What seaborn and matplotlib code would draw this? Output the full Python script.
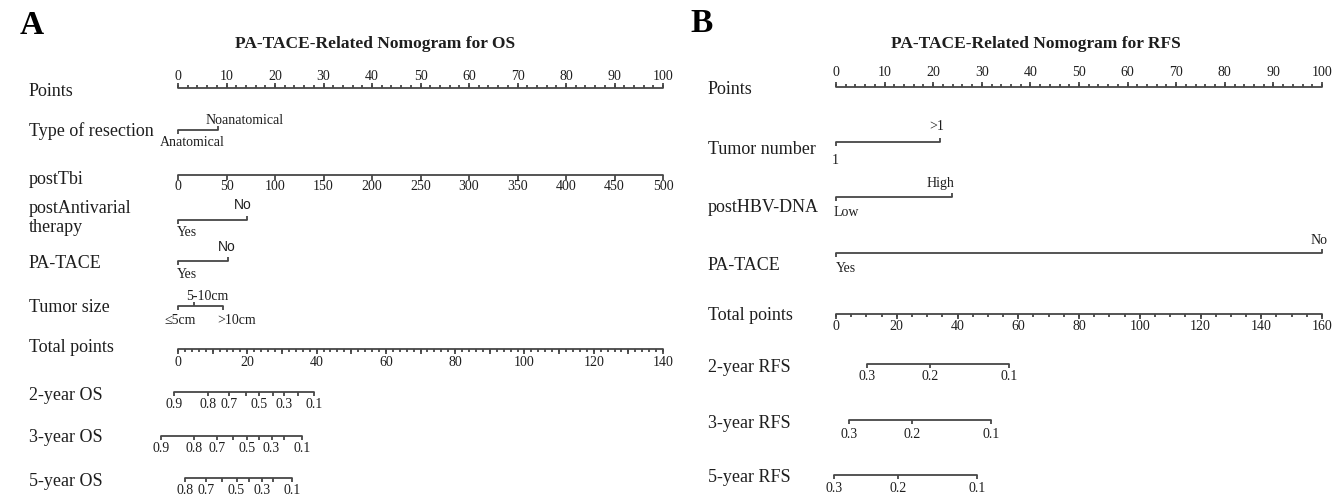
import matplotlib
matplotlib.use("Agg")
import matplotlib.pyplot as plt
from matplotlib.transforms import offset_copy
import numpy as np
import seaborn as sns

# ---------------- OS nomogram (panel A) ----------------
os_points_ticks = list(range(0, 101, 10))
os_resection_levels = ["Anatomical", "Noanatomical"]
os_resection_points = [0, 8.3]
os_tbi_ticks = list(range(0, 501, 50))
os_antiviral_levels = ["Yes", "No"]
os_antiviral_points = [0, 14.2]
os_tace_levels = ["Yes", "No"]
os_tace_points = [0, 10.3]
os_size_levels = ["\u22645cm", "5-10cm", ">10cm"]
os_size_points = [0, 3.3, 9.2]
os_total_ticks = list(range(0, 141, 20))
os_prob_2y = [0.9, 0.8, 0.7, 0.6, 0.5, 0.4, 0.3, 0.2, 0.1]
os_total_2y = [-1.2, 8.6, 14.8, 19.6, 23.5, 27.3, 30.7, 34.6, 39.3]
os_prob_3y = [0.9, 0.8, 0.7, 0.6, 0.5, 0.4, 0.3, 0.2, 0.1]
os_total_3y = [-5.0, 4.7, 11.2, 16.0, 19.8, 23.5, 27.0, 30.7, 35.7]
os_prob_5y = [0.8, 0.7, 0.6, 0.5, 0.4, 0.3, 0.2, 0.1]
os_total_5y = [2.0, 8.1, 12.6, 16.9, 20.6, 24.2, 27.5, 32.8]
os_prob_shown = [0.9, 0.8, 0.7, 0.5, 0.3, 0.1]

# ---------------- RFS nomogram (panel B) ----------------
rfs_points_ticks = list(range(0, 101, 10))
rfs_number_levels = ["1", ">1"]
rfs_number_points = [0, 21.5]
rfs_hbv_levels = ["Low", "High"]
rfs_hbv_points = [0, 23.9]
rfs_tace_levels = ["Yes", "No"]
rfs_tace_points = [0, 100]
rfs_total_ticks = list(range(0, 161, 20))
rfs_prob = [0.3, 0.2, 0.1]
rfs_total_2y = [10.1, 31.1, 57.0]
rfs_total_3y = [4.3, 25.1, 51.0]
rfs_total_5y = [-0.6, 20.5, 46.3]

W, H = 1337, 497
LINE = "#474747"
TXT = "#1e1e1e"
LW = 1.3
SERIF = ["Liberation Serif", "DejaVu Serif"]
SANS = ["Liberation Sans", "DejaVu Sans"]
ROW_FS = 13
SMALL_FS = 10

sns.set_theme(style="white")
plt.rcParams["font.family"] = SERIF

fig = plt.figure(figsize=(W / 100, H / 100), dpi=100)


def make_panel(x0, x1):
    ax = fig.add_axes([x0 / W, 0, (x1 - x0) / W, 1])
    ax.set_xlim(0, 100)
    ax.set_ylim(H, 0)
    ax.axis("off")
    return ax


def hline(ax, xa, xb, y):
    sns.lineplot(x=[xa, xb], y=[y, y], ax=ax, color=LINE, linewidth=LW,
                 estimator=None, sort=False)


def ticks(ax, xs, y, length):
    ax.vlines(xs, y, y + length, color=LINE, linewidth=LW, clip_on=False)


def label(ax, x, y, s, dx=0, fs=SMALL_FS, family=SERIF):
    tr = offset_copy(ax.transData, fig=fig, x=dx, y=0, units="dots")
    ax.text(x, y, s, transform=tr, ha="center", va="center", fontsize=fs,
            color=TXT, family=family)


def scale_axis(ax, y, vmax, major, shown, minor, up, lab_y):
    # continuous axis: values mapped to 0..100 of the panel
    hline(ax, 0, 100, y)
    sgn = -1 if up else 1
    ticks(ax, np.array(minor) / vmax * 100, y, sgn * 3)
    ticks(ax, np.array(major) / vmax * 100, y, sgn * 5)
    for v in shown:
        label(ax, v / vmax * 100, lab_y, str(v))


def cat_axis(ax, pts, levels, y, y_up, y_dn, above, dxs, family=SERIF):
    hline(ax, min(pts), max(pts), y)
    for p, lev, a, dx in zip(pts, levels, above, dxs):
        ticks(ax, [p], y, -4 if a else 4)
        label(ax, p, y_up if a else y_dn, lev, dx=dx,
              family=family if lev == "No" else SERIF)


def prob_axis(ax, totals, probs, shown, tmax, y, lab_y):
    xs = np.array(totals) / tmax * 100
    hline(ax, xs.min(), xs.max(), y)
    ticks(ax, xs, y, 4)
    for x, p in zip(xs, probs):
        if p in shown:
            label(ax, x, lab_y, f"{p:.1f}")


def row_label(x, y, s):
    fig.text(x / W, 1 - y / H, s, ha="left", va="center", fontsize=ROW_FS,
             color=TXT, linespacing=1.2)


# ---------------- panel A ----------------
axA = make_panel(178, 663)
fig.text(20 / W, 1 - 26 / H, "A", fontsize=24, fontweight="bold",
         ha="left", va="center", color="black")
fig.text(375 / W, 1 - 44 / H, "PA-TACE-Related Nomogram for OS",
         fontsize=12.5, fontweight="bold", ha="center", va="center", color=TXT)

scale_axis(axA, 88, 100, os_points_ticks, os_points_ticks,
           list(range(0, 101, 2)), True, 76)
cat_axis(axA, os_resection_points, os_resection_levels, 130, 121, 143,
         [False, True], [14, 26])
scale_axis(axA, 175, 500, os_tbi_ticks, os_tbi_ticks, [], False, 187)
cat_axis(axA, os_antiviral_points, os_antiviral_levels, 220, 205, 232,
         [False, True], [9, -4], family=SANS)
cat_axis(axA, os_tace_points, os_tace_levels, 261, 247, 275,
         [False, True], [9, -1], family=SANS)
cat_axis(axA, os_size_points, os_size_levels, 306, 296, 320,
         [False, True, False], [2, 13, 14])
scale_axis(axA, 349, 140, list(range(0, 141, 10)), os_total_ticks,
           list(range(0, 141, 2)), False, 362)
prob_axis(axA, os_total_2y, os_prob_2y, os_prob_shown, 140, 392, 405)
prob_axis(axA, os_total_3y, os_prob_3y, os_prob_shown, 140, 436, 448)
prob_axis(axA, os_total_5y, os_prob_5y, os_prob_shown, 140, 478, 491)

for y, s in [(92, "Points"), (131, "Type of resection"), (179, "postTbi"),
             (218, "postAntivarial\ntherapy"), (263, "PA-TACE"),
             (308, "Tumor size"), (348, "Total points"), (395, "2-year OS"),
             (438, "3-year OS"), (482, "5-year OS")]:
    row_label(29, y, s)

# ---------------- panel B ----------------
axB = make_panel(836, 1322)
fig.text(690 / W, 1 - 24 / H, "B", fontsize=24, fontweight="bold",
         ha="left", va="center", color="black")
fig.text(1036 / W, 1 - 44 / H, "PA-TACE-Related Nomogram for RFS",
         fontsize=12.5, fontweight="bold", ha="center", va="center", color=TXT)

scale_axis(axB, 87, 100, rfs_points_ticks, rfs_points_ticks,
           list(range(0, 101, 2)), True, 73)
cat_axis(axB, rfs_number_points, rfs_number_levels, 142, 127, 160,
         [False, True], [-1, -4])
cat_axis(axB, rfs_hbv_points, rfs_hbv_levels, 197, 183, 213,
         [False, True], [10, -12])
cat_axis(axB, rfs_tace_points, rfs_tace_levels, 253, 240, 269,
         [False, True], [10, -3])
scale_axis(axB, 314, 160, rfs_total_ticks, rfs_total_ticks,
           list(range(0, 161, 5)), False, 326)
prob_axis(axB, rfs_total_2y, rfs_prob, rfs_prob, 160, 364, 377)
prob_axis(axB, rfs_total_3y, rfs_prob, rfs_prob, 160, 420, 434)
prob_axis(axB, rfs_total_5y, rfs_prob, rfs_prob, 160, 475, 489)

for y, s in [(89, "Points"), (150, "Tumor number"), (207, "postHBV-DNA"),
             (265, "PA-TACE"), (316, "Total points"), (368, "2-year RFS"),
             (423, "3-year RFS"), (477, "5-year RFS")]:
    row_label(708, y, s)

for ax in (axA, axB):
    for ln in ax.lines:
        ln.set_clip_on(False)
    if ax.get_legend() is not None:
        ax.get_legend().remove()
    ax.set_xlim(0, 100)
    ax.set_ylim(H, 0)

fig.savefig("out.png", dpi=100, facecolor="white")
